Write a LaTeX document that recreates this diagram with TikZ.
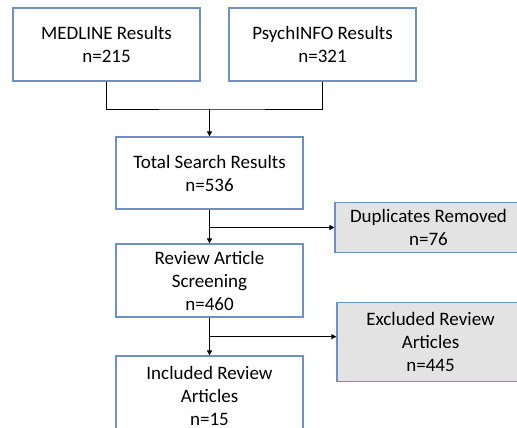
\documentclass[tikz,border=0pt]{standalone}
\usepackage{fontspec}
\setmainfont{Carlito}
\usetikzlibrary{arrows.meta}

\begin{document}
\begin{tikzpicture}[x=1pt,y=1pt,
  stepbox/.style={draw=boxColor,line width=1.2pt,fill=white,minimum width=187pt,
    align=center,inner sep=2pt,font=\fontsize{19}{23}\selectfont},
  sidebox/.style={stepbox,fill=sideColor},
  link/.style={draw=black,line width=0.8pt},
  arrow/.style={link,-{Triangle[length=5pt,width=5pt]}}]
\definecolor[named]{boxColor}{rgb}{0.44,0.56,0.77}
\definecolor[named]{sideColor}{rgb}{0.89,0.89,0.89}
\path[use as bounding box,fill=white] (0,0) rectangle (517,428);
\clip (0,0) rectangle (517,428);

% search sources
\node[stepbox,minimum height=73pt] (medline) at (106.5,383.5) {MEDLINE Results\\n=215};
\node[stepbox,minimum height=73pt] (psych) at (322.5,383.5) {PsychINFO Results\\n=321};

% main column
\node[stepbox,minimum height=72pt] (total) at (209.5,255) {Total Search Results\\n=536};
\node[stepbox,minimum height=73pt] (review) at (209.5,147.5) {Review Article\\Screening\\n=460};
\node[stepbox,minimum height=79pt] (included) at (209.5,32.5) {Included Review\\Articles\\n=15};

% removed records
\node[sidebox,minimum height=50pt] (dup) at (428.5,200.5) {Duplicates Removed\\n=76};
\node[sidebox,minimum height=79pt] (excl) at (430.5,86) {Excluded Review\\Articles\\n=445};

% connectors
\coordinate (merge) at (209.5,319);
\coordinate (dupfork) at (209.5,200.5);
\coordinate (exclfork) at (209.5,91.3);
\draw[link] (medline.south) |- (merge) -| (psych.south);
\draw[arrow] (merge) -- (total.north);
\draw[arrow] (total.south) -- (review.north);
\draw[arrow] (dupfork) -- (dup.west);
\draw[arrow] (review.south) -- (included.north);
\draw[arrow] (exclfork) -- (excl.west |- exclfork);
\end{tikzpicture}
\end{document}
